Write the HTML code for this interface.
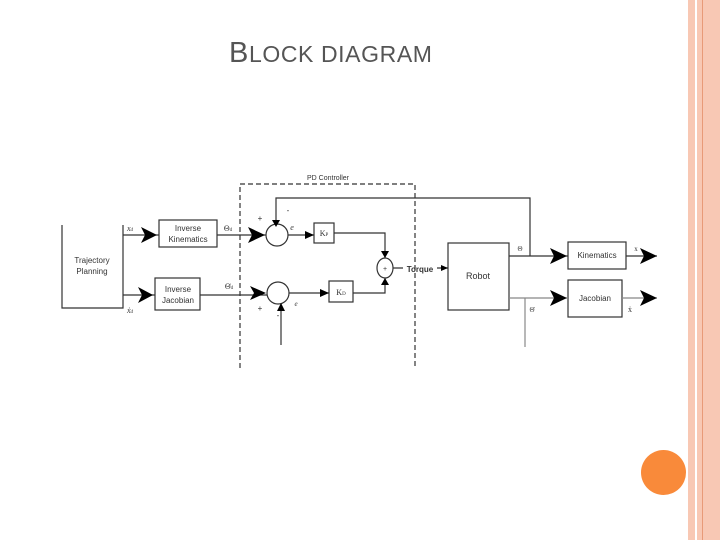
<!DOCTYPE html>
<html><head><style>
body{margin:0;width:720px;height:540px;background:#fff;overflow:hidden;position:relative;font-family:"Liberation Sans",sans-serif}
.t{position:absolute;left:229px;top:37px;font-size:23px;color:#555;letter-spacing:0.6px}
.t .b{font-size:29px}
</style></head><body>
<div style="position:absolute;left:688px;top:0;width:7px;height:540px;background:#f8c8b4"></div>
<div style="position:absolute;left:697px;top:0;width:23px;height:540px;background:#f8c8b4"></div>
<div style="position:absolute;left:702px;top:0;width:1px;height:540px;background:#e89a78"></div>
<div style="position:absolute;left:641px;top:450px;width:45px;height:45px;border-radius:50%;background:#f98a3a"></div>
<div class="t"><span class="b">B</span>LOCK DIAGRAM</div>
<svg width="720" height="540" style="position:absolute;left:0;top:0" font-family="Liberation Sans, sans-serif">
<g stroke="#333" fill="none" stroke-width="1.2">
<path d="M62,225V308H123V225"/>
<rect x="159" y="220" width="58" height="27"/>
<rect x="155" y="278" width="45" height="32"/>
<path d="M240,368V184H415V368" stroke-dasharray="5,3"/>
<path d="M123,235H159M217,235H266M288,235H314M123,295H155M200,295H267M289,293H329M334,233H385V258M353,293H385V278M393,268H403M437,268H448"/>
<path d="M530,256V198H276V224M281,345V304"/>
<rect x="314" y="223" width="20" height="20"/>
<rect x="329" y="281" width="24" height="21"/>
<circle cx="277" cy="235" r="11"/><circle cx="278" cy="293" r="11"/>
<ellipse cx="385" cy="268" rx="8" ry="10"/>
<rect x="448" y="243" width="61" height="67"/>
<rect x="568" y="242" width="58" height="27"/>
<rect x="568" y="280" width="54" height="37"/>
<path d="M509,256H568M626,256H657"/>
<path d="M509,298H568M622,298H657M525,298V347" stroke="#888"/>
</g>
<g fill="#000">
<path d="M141,227L157,235L141,243L145,235z"/><path d="M248,227L265,235L248,243L252,235z"/>
<path d="M138,287L153,295L138,303L142,295z"/><path d="M250,286L266,293L250,300L254,293z"/>
<path d="M550,248L567,256L550,264L554,256z"/><path d="M640,248L657,256L640,264L644,256z"/>
<path d="M550,290L567,298L550,306L554,298z"/><path d="M640,290L657,298L640,306L644,298z"/>
<path d="M305,231L314,235L305,239z"/><path d="M320,289L329,293L320,297z"/>
<path d="M272,220L276,227L280,220z"/><path d="M277,311L281,303L285,311z"/>
<path d="M381,251L385,258L389,251z"/><path d="M381,285L385,278L389,285z"/>
<path d="M441,265L448,268L441,271z"/>
</g>
<g font-size="8" fill="#333" text-anchor="middle">
<text x="188" y="231">Inverse</text><text x="188" y="242">Kinematics</text>
<text x="178" y="292">Inverse</text><text x="178" y="303">Jacobian</text>
<text x="92" y="263">Trajectory</text><text x="92" y="274">Planning</text>
<text x="478" y="279" font-size="9">Robot</text>
<text x="597" y="258">Kinematics</text><text x="595" y="301">Jacobian</text>
<text x="328" y="180" font-size="7">PD Controller</text>
<text x="324" y="236" font-family="Liberation Serif">K<tspan font-size="5">P</tspan></text>
<text x="341" y="295" font-family="Liberation Serif">K<tspan font-size="5">D</tspan></text>
<text x="385" y="271" font-size="7">+</text>
<text x="260" y="221">+</text><text x="288" y="213">-</text>
<text x="260" y="311">+</text><text x="278" y="318">-</text>
<text x="292" y="230" font-family="Liberation Serif" font-style="italic">e</text>
<text x="296" y="306" font-family="Liberation Serif" font-style="italic" font-size="7">e</text>
<text x="130" y="231" font-family="Liberation Serif" font-style="italic">x<tspan font-size="5">d</tspan></text>
<text x="130" y="313" font-family="Liberation Serif" font-style="italic">ẋ<tspan font-size="5">d</tspan></text>
<text x="228" y="231" font-family="Liberation Serif">Θ<tspan font-size="5">d</tspan></text>
<text x="229" y="289" font-family="Liberation Serif">Θ̇<tspan font-size="5">d</tspan></text>
<text x="520" y="251" font-family="Liberation Serif" font-size="7">Θ</text>
<text x="532" y="312" font-family="Liberation Serif" font-size="7">Θ̇</text>
<text x="636" y="251" font-family="Liberation Serif" font-size="7">x</text>
<text x="630" y="312" font-family="Liberation Serif" font-size="8">ẋ</text>
<text x="420" y="272" font-weight="bold" font-size="8">Torque</text>
</g>
</svg>
</body></html>
